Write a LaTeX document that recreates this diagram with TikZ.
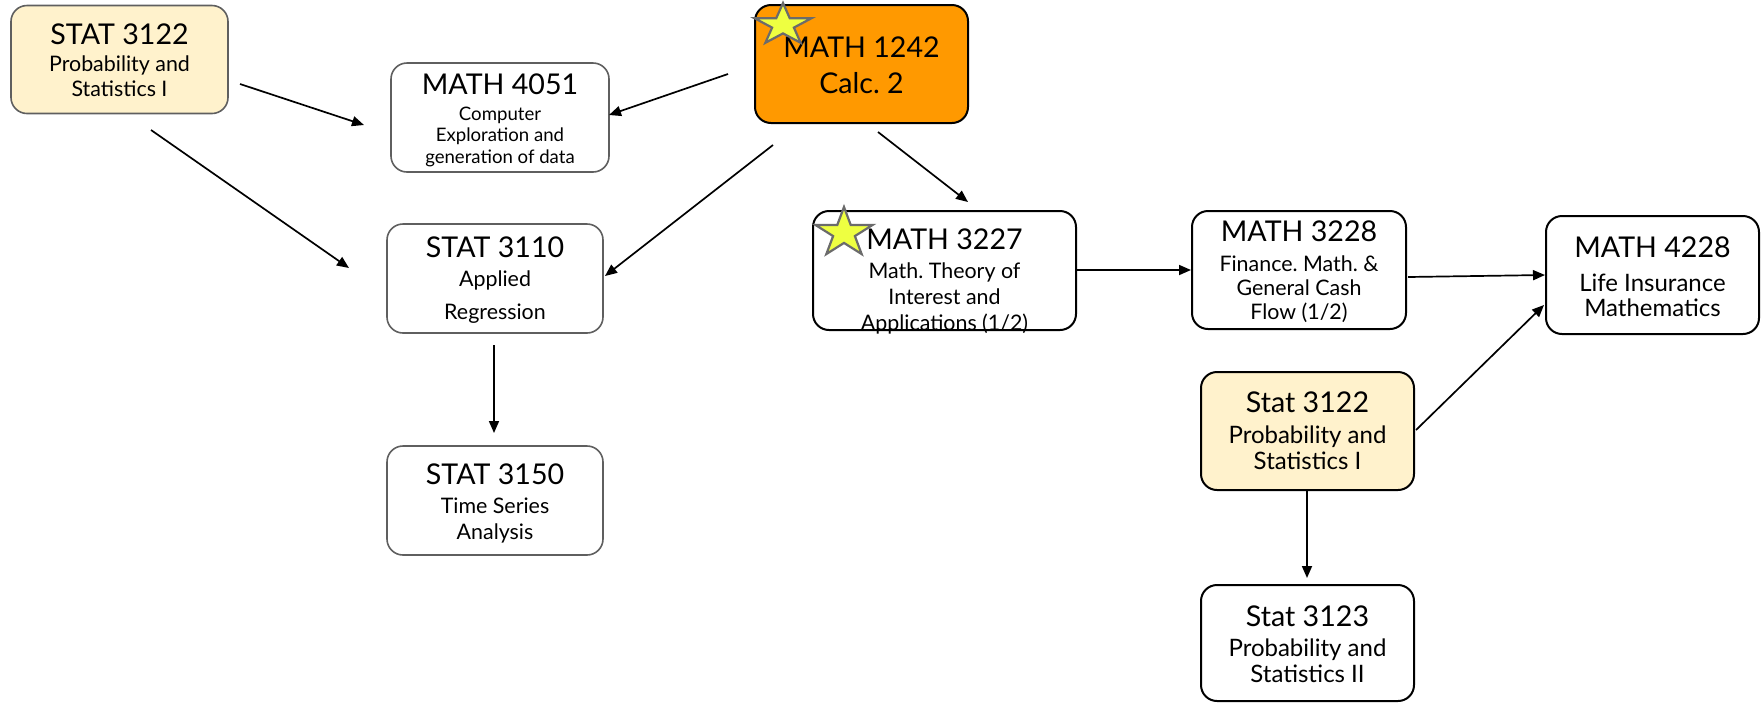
\documentclass[tikz,border=0pt]{standalone}
\usepackage{fontspec}
\setmainfont{Lato}
\usetikzlibrary{arrows.meta}
\frenchspacing

\definecolor{peach}{HTML}{FFF2CC}
\definecolor{calcorange}{HTML}{FF9900}
\definecolor{softgray}{HTML}{5F5F5F}
\definecolor{starfill}{HTML}{EEFF41}
\definecolor{staredge}{HTML}{6B6B6B}

\tikzset{
  course/.style={draw=black, line width=1pt, rounded corners=8pt, inner sep=0pt},
  softcourse/.style={course, draw=softgray, line width=0.8pt},
  ttl/.style={anchor=base, inner sep=0pt, font=\fontsize{14.3}{17}\selectfont},
  sub/.style={anchor=base, inner sep=0pt, font=\fontsize{10.7}{13}\selectfont},
  small/.style={anchor=base, inner sep=0pt, font=\fontsize{9.3}{11}\selectfont},
  big/.style={anchor=base, inner sep=0pt, font=\fontsize{12}{14}\selectfont},
  link/.style={line width=0.85pt, -{Triangle[length=6pt,width=5pt]}},
  starshape/.style={fill=starfill, draw=staredge, line width=1.1pt, line join=miter}
}

\begin{document}
\begin{tikzpicture}[x=0.5pt, y=-0.5pt]
\useasboundingbox (0,0) rectangle (1762,703);

% course boxes
\node[softcourse, fill=peach, minimum width=108.5pt, minimum height=54pt] (s3122l) at (119.5,59.5) {};
\node[softcourse, minimum width=109pt, minimum height=54.5pt] (m4051) at (500,117.5) {};
\node[course, fill=calcorange, minimum width=106.5pt, minimum height=59pt] (m1242) at (861.5,64) {};
\node[softcourse, minimum width=108pt, minimum height=54.5pt] (s3110) at (495,278.5) {};
\node[softcourse, minimum width=108pt, minimum height=54.5pt] (s3150) at (495,500.5) {};
\node[course, minimum width=131.5pt, minimum height=59.5pt] (m3227) at (944.5,270.5) {};
\node[course, minimum width=107pt, minimum height=59pt] (m3228) at (1299,270) {};
\node[course, minimum width=106.5pt, minimum height=59pt] (m4228) at (1652.5,275) {};
\node[course, fill=peach, minimum width=106.5pt, minimum height=59pt] (s3122r) at (1307.5,431) {};
\node[course, minimum width=106.5pt, minimum height=58pt] (s3123) at (1307.5,643) {};

% STAT 3122 (left)
\node[ttl] (s3122l-a) at (119.5,44) {STAT 3122};
\node[sub] (s3122l-b) at (119.5,71.5) {Probability and};
\node[sub] (s3122l-c) at (119.5,96.5) {Statistics I};

% MATH 4051
\node[ttl] (m4051-a) at (500,94) {MATH 4051};
\node[small] (m4051-b) at (500,120.5) {Computer};
\node[small] (m4051-c) at (500,141.5) {Exploration and};
\node[small] (m4051-d) at (500,163.5) {generation of data};

% MATH 1242
\node[ttl] (m1242-a) at (861.5,57) {MATH 1242};
\node[ttl] (m1242-b) at (861.5,93) {Calc. 2};

% STAT 3110
\node[ttl] (s3110-a) at (495,257) {STAT 3110};
\node[sub] (s3110-b) at (495,286.5) {Applied};
\node[sub] (s3110-c) at (495,319.5) {Regression};

% STAT 3150
\node[ttl] (s3150-a) at (495,484) {STAT 3150};
\node[sub] (s3150-b) at (495,513) {Time Series};
\node[sub] (s3150-c) at (495,539.5) {Analysis};

% MATH 3227
\node[ttl] (m3227-a) at (944.5,249) {MATH 3227};
\node[sub] (m3227-b) at (944.5,278.5) {Math. Theory of};
\node[sub] (m3227-c) at (944.5,304.5) {Interest and};
\node[sub] (m3227-d) at (944.5,330.5) {Applications (1/2)};

% MATH 3228
\node[ttl] (m3228-a) at (1299,241) {MATH 3228};
\node[sub] (m3228-b) at (1299,271.5) {Finance. Math. \&};
\node[sub] (m3228-c) at (1299,295.5) {General Cash};
\node[sub] (m3228-d) at (1299,319.5) {Flow (1/2)};

% MATH 4228
\node[ttl] (m4228-a) at (1652.5,257) {MATH 4228};
\node[big] (m4228-b) at (1652.5,291.5) {Life Insurance};
\node[big] (m4228-c) at (1652.5,316.5) {Mathematics};

% Stat 3122 (right)
\node[ttl] (s3122r-a) at (1307.5,412) {Stat 3122};
\node[big] (s3122r-b) at (1307.5,443.5) {Probability and};
\node[big] (s3122r-c) at (1307.5,469.5) {Statistics I};

% Stat 3123
\node[ttl] (s3123-a) at (1307.5,626) {Stat 3123};
\node[big] (s3123-b) at (1307.5,656.5) {Probability and};
\node[big] (s3123-c) at (1307.5,682.5) {Statistics II};

% stars on the calculus-track courses
\draw[starshape, shift={(783,25)}, xscale=30, yscale=22]
  (-90:1) -- (-54:0.382) -- (-18:1) -- (18:0.382) -- (54:1) -- (90:0.382)
  -- (126:1) -- (162:0.382) -- (198:1) -- (234:0.382) -- cycle;
\draw[starshape, shift={(844,233)}, xscale=30, yscale=26]
  (-90:1) -- (-54:0.382) -- (-18:1) -- (18:0.382) -- (54:1) -- (90:0.382)
  -- (126:1) -- (162:0.382) -- (198:1) -- (234:0.382) -- cycle;

% connector end points
\coordinate (s3122l-o1) at (240,84);
\coordinate (m4051-i1) at (364,125);
\coordinate (s3122l-o2) at (151,130);
\coordinate (s3110-i1) at (349,268);
\coordinate (m1242-o1) at (728,74);
\coordinate (m4051-i2) at (609,115);
\coordinate (m1242-o2) at (773,145);
\coordinate (s3110-i2) at (605,276);
\coordinate (m1242-o3) at (878,132);
\coordinate (m3227-i1) at (968,202);
\coordinate (s3110-o1) at (494,345);
\coordinate (s3150-i1) at (494,433);
\coordinate (m3227-o1) at (1076,270);
\coordinate (m3228-i1) at (1191,270);
\coordinate (m3228-o1) at (1408,277);
\coordinate (m4228-i1) at (1545,275);
\coordinate (s3122r-o1) at (1416,430);
\coordinate (m4228-i2) at (1544,305);
\coordinate (s3122r-o2) at (1307,491);
\coordinate (s3123-i1) at (1307,578);

% prerequisite arrows
\draw[link] (s3122l-o1) -- (m4051-i1);
\draw[link] (s3122l-o2) -- (s3110-i1);
\draw[link] (m1242-o1) -- (m4051-i2);
\draw[link] (m1242-o2) -- (s3110-i2);
\draw[link] (m1242-o3) -- (m3227-i1);
\draw[link] (s3110-o1) -- (s3150-i1);
\draw[link] (m3227-o1) -- (m3228-i1);
\draw[link] (m3228-o1) -- (m4228-i1);
\draw[link] (s3122r-o1) -- (m4228-i2);
\draw[link] (s3122r-o2) -- (s3123-i1);
\end{tikzpicture}
\end{document}
